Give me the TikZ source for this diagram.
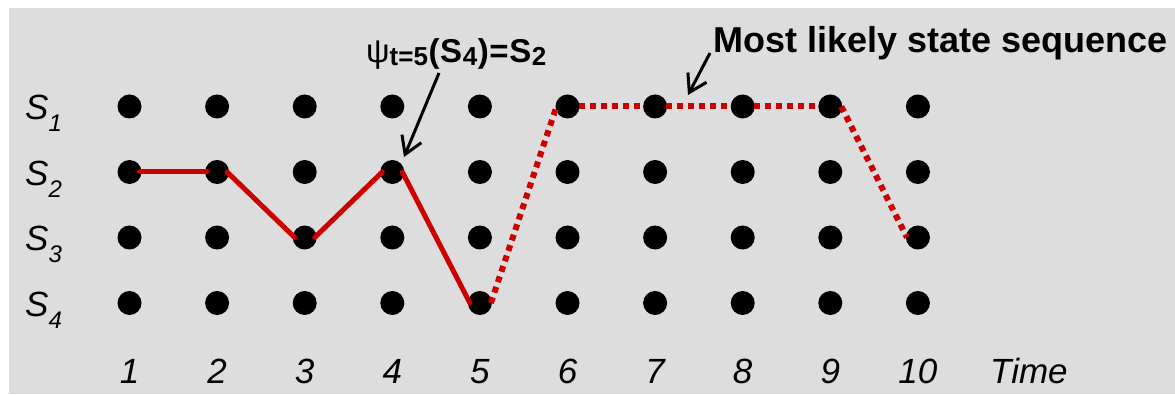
\documentclass[tikz,border=0pt]{standalone}
\usepackage{fontspec}
\setmainfont{Liberation Sans}
\usetikzlibrary{arrows.meta}
\definecolor{bggray}{RGB}{221,221,221}
\definecolor{pathred}{RGB}{204,0,0}
\newcommand{\psisub}[1]{\raisebox{-3pt}{\fontsize{26}{28}\selectfont\bfseries #1}}
\newcommand{\gap}{\kern0.6pt}
\begin{document}
\begin{tikzpicture}[x=1pt,y=-1pt,
  dot/.style={circle,fill=black,inner sep=0pt,minimum size=24pt},
  solidpath/.style={pathred,line width=5pt,line cap=round},
  dotpath/.style={pathred,line width=6pt,dash pattern=on 6pt off 5pt},
  pointer/.style={line width=3pt,-{Straight Barb[length=17pt,width=21pt]}},
  statelabel/.style={anchor=base west,inner sep=0pt,font=\fontsize{35}{40}\selectfont\itshape},
  timelabel/.style={anchor=base,inner sep=0pt,font=\fontsize{35}{40}\selectfont\itshape},
  annot/.style={anchor=base west,inner sep=0pt}]
\useasboundingbox (0,0) rectangle (1175,395);
\fill[bggray] (9,8) rectangle (1175,394);

% dots
\foreach \c in {1,...,10}{
  \foreach \r in {1,...,4}{
    \node[dot] (d-\c-\r) at ({129.5+87.6*(\c-1)},{106.5+65.5*(\r-1)}) {};
  }
}

% state labels
\foreach \r in {1,...,4}{
  \node[statelabel] (s-\r) at (25,{120+65.5*(\r-1)}) {S\raisebox{-12pt}{\fontsize{24}{26}\selectfont \r}};
}

% time labels
\foreach \c in {1,...,10}{
  \node[timelabel] (t-\c) at ({129.5+87.6*(\c-1)},383) {\c};
}
\node[statelabel] (time) at (990,383) {Time};

% solid path
\draw[solidpath] ([xshift=10pt]d-1-2.center) -- ([xshift=-10pt]d-2-2.center);
\draw[solidpath] ([xshift=10pt]d-2-2.center) -- ([xshift=-10pt]d-3-3.center);
\draw[solidpath] ([xshift=10pt]d-3-3.center) -- ([xshift=-10pt]d-4-2.center);
\draw[solidpath] ([xshift=10pt]d-4-2.center) -- ([xshift=-10pt]d-5-4.center);

% dotted path
\draw[dotpath] ([xshift=11pt]d-5-4.center) -- ([xshift=-11pt]d-6-1.center);
\draw[dotpath] ([xshift=11pt]d-6-1.center) -- ([xshift=-11pt]d-7-1.center);
\draw[dotpath] ([xshift=11pt]d-7-1.center) -- ([xshift=-11pt]d-8-1.center);
\draw[dotpath] ([xshift=11pt]d-8-1.center) -- ([xshift=-11pt]d-9-1.center);
\draw[dotpath] ([xshift=11pt]d-9-1.center) -- ([xshift=-11pt]d-10-3.center);

% annotations
\node[annot,font=\fontsize{33}{36}\selectfont] (psi) at (366,63) {ψ\psisub{t=5}\gap\textbf{(\gap S\gap\psisub{4}\gap)\gap=\gap S\gap\psisub{2}}};
\node[annot,font=\fontsize{36}{40}\selectfont\bfseries] (mlss) at (713,53) {Most likely state sequence};

\coordinate (psitail) at (439,73);
\coordinate (psitip) at (404,157);
\draw[pointer] (psitail) -- (psitip);
\coordinate (mltail) at (710,53);
\coordinate (mltip) at (688,95);
\draw[pointer] (mltail) -- (mltip);
\end{tikzpicture}
\end{document}
